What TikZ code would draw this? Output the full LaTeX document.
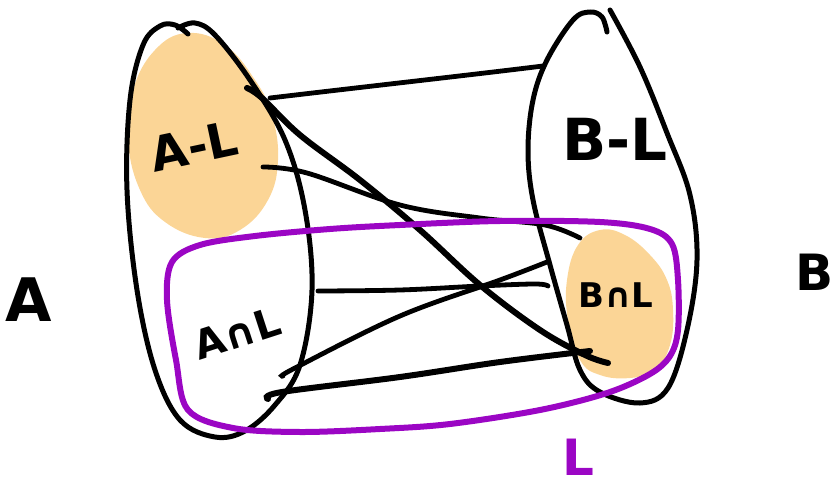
\documentclass[tikz,border=0pt]{standalone}
\usepackage{fontspec}
\setmainfont{DejaVu Sans}
\definecolor{blob}{RGB}{251,213,150}
\definecolor{lpurple}{RGB}{155,6,196}
\begin{document}
\begin{tikzpicture}[x=1pt,y=-1pt,
  outline/.style={draw=black,line width=5pt,line cap=round,line join=round},
  conn/.style={draw=black,line width=4.8pt,line cap=round},
  thickconn/.style={draw=black,line width=6pt,line cap=round},
  hand/.style={inner sep=0pt,text=black},
]
\useasboundingbox (0,0) rectangle (832,489);
% orange blobs
\fill[blob] plot[smooth cycle,tension=0.7] coordinates {(187,33) (225,45) (255,80) (272,115) (278,160) (268,200) (240,230) (205,238) (165,222) (140,190) (128,140) (133,90) (155,50)};
\fill[blob] plot[smooth cycle,tension=0.7] coordinates {(600,230) (625,235) (650,255) (667,280) (673,310) (670,345) (655,370) (630,378) (600,375) (580,360) (568,320) (567,280) (578,245)};
% set A
\draw[outline] plot[smooth,tension=0.6] coordinates {(188,34) (175,25) (160,26) (143,45) (130,100) (127,190) (137,290) (155,370) (180,420) (215,437) (245,431) (275,405) (300,365) (312,290) (305,210) (285,140) (250,80) (215,35) (195,23) (178,28)};
% set B
\draw[outline] plot[smooth,tension=0.6] coordinates {(607,32) (602,17) (590,12) (573,20) (547,60) (533,100) (528,150) (533,200) (550,265) (567,325) (580,370) (600,392) (640,403) (668,388) (687,330) (697,260) (690,195) (667,133) (640,67) (610,10)};
% endpoints
\coordinate (al1) at (247,88);
\coordinate (al2) at (270,98);
\coordinate (al3) at (263,167);
\coordinate (bl1) at (543,66);
\coordinate (bnl1) at (580,238);
\coordinate (bnl2) at (608,363);
\coordinate (bnl3) at (590,351);
\coordinate (bnl4) at (548,286);
\coordinate (bnl5) at (547,262);
\coordinate (anl1) at (318,291);
\coordinate (anl2) at (283,376);
\coordinate (anl3) at (268,399);
% connectors
\draw[conn] (al2) .. controls (380,85) and (470,75) .. (bl1);
\draw[thickconn] plot[smooth,tension=0.6] coordinates {(al1) (262,98) (300,135) (360,180) (420,230) (480,285) (540,330) (585,355) (bnl2)};
\draw[conn] plot[smooth,tension=0.6] coordinates {(al3) (307,173) (400,205) (480,218) (545,225) (bnl1)};
\draw[conn] plot[smooth,tension=0.6] coordinates {(anl1) (400,290) (480,286) (535,284) (bnl4)};
\draw[conn] plot[smooth,tension=0.6] coordinates {(anl2) (295,368) (400,316) (500,280) (bnl5)};
\draw[thickconn] plot[smooth,tension=0.6] coordinates {(anl3) (282,392) (400,377) (500,362) (bnl3)};
% set L
\draw[lpurple,line width=6pt,line join=round] plot[smooth cycle,tension=0.55] coordinates {(255,236) (330,229) (400,225) (500,221) (600,222) (650,229) (672,244) (678,280) (678,330) (670,356) (650,374) (607,393) (540,410) (450,424) (380,429) (300,432) (233,428) (188,410) (176,360) (167,300) (172,262) (200,245)};
% labels
\node[hand,font=\bfseries\fontsize{48}{48}\selectfont,rotate=12] (tAL) at (194,146) {A-L};
\node[hand,font=\bfseries\fontsize{58}{58}\selectfont] (tBL) at (615,139) {B-L};
\node[hand,font=\bfseries\fontsize{40}{40}\selectfont,rotate=18] (tAnL) at (237,333) {A∩L};
\node[hand,font=\bfseries\fontsize{34}{34}\selectfont] (tBnL) at (616,295) {B∩L};
\node[hand,font=\bfseries\fontsize{60}{60}\selectfont] (tA) at (29,300) {A};
\node[hand,font=\bfseries\fontsize{50}{50}\selectfont] (tB) at (815,272) {B};
\node[hand,text=lpurple,font=\bfseries\fontsize{50}{50}\selectfont] (tL) at (578,457) {L};
\end{tikzpicture}
\end{document}
